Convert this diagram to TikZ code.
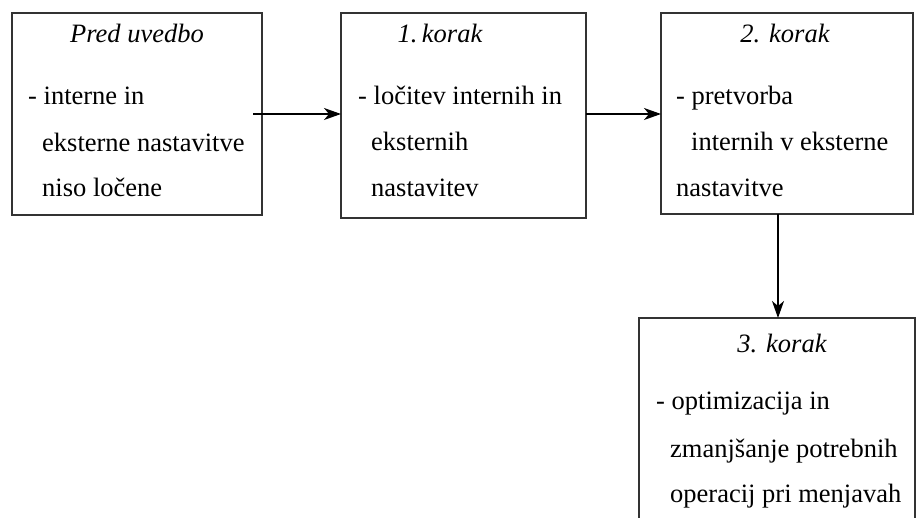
\documentclass[tikz,border=0pt]{standalone}
\usepackage{fontspec}
\setmainfont{Liberation Serif}
\usetikzlibrary{arrows.meta}
\begin{document}
\begin{tikzpicture}[x=1pt,y=-1pt,
  box/.style={draw=black!80, line width=1.6pt, rectangle, inner sep=0pt, outer sep=0pt, anchor=north west},
  txt/.style={anchor=base west, inner sep=0pt, font=\fontsize{26.5}{30}\selectfont},
  ttl/.style={anchor=base, inner sep=0pt, font=\fontsize{26.5}{30}\selectfont\itshape},
  arr/.style={draw=black, line width=1.4pt, -{Stealth[length=17pt,width=12pt,inset=5pt]}}]
\useasboundingbox (0,0) rectangle (916,518);
\clip (0,0) rectangle (916,518);
\node[box, minimum width=250pt, minimum height=202pt] (b1) at (12,13) {};
\node[box, minimum width=245pt, minimum height=205pt] (b2) at (341,13) {};
\node[box, minimum width=252pt, minimum height=201pt] (b3) at (661,13) {};
\node[box, minimum width=276pt, minimum height=260pt] (b4) at (639,318) {};
% box 1
\node[ttl] (t1) at (137,43) {Pred uvedbo};
\node[txt] (l11) at (28,105) {- interne in};
\node[txt] (l12) at (42,152) {eksterne nastavitve};
\node[txt] (l13) at (42,197) {niso ločene};
% box 2
\node[ttl] (t2) at (440,43) {1.\,korak};
\node[txt] (l21) at (358,105) {- ločitev internih in};
\node[txt] (l22) at (371,151) {eksternih};
\node[txt] (l23) at (371,197) {nastavitev};
% box 3
\node[ttl] (t3) at (785,43) {2. korak};
\node[txt] (l31) at (676,105) {- pretvorba};
\node[txt] (l32) at (691,151) {internih v eksterne};
\node[txt] (l33) at (676,197) {nastavitve};
% box 4
\node[ttl] (t4) at (782,353) {3. korak};
\node[txt] (l41) at (656,410) {- optimizacija in};
\node[txt] (l42) at (670,457) {zmanjšanje potrebnih};
\node[txt] (l43) at (670,502) {operacij pri menjavah};
% arrows
\coordinate (ax) at (778,0);
\draw[arr, shorten <=-9pt] (b1.east) -- (b1.east -| b2.west);
\draw[arr] (b2.east |- b1.east) -- (b1.east -| b3.west);
\draw[arr] (b3.south -| ax) -- (b4.north -| ax);
\end{tikzpicture}
\end{document}
